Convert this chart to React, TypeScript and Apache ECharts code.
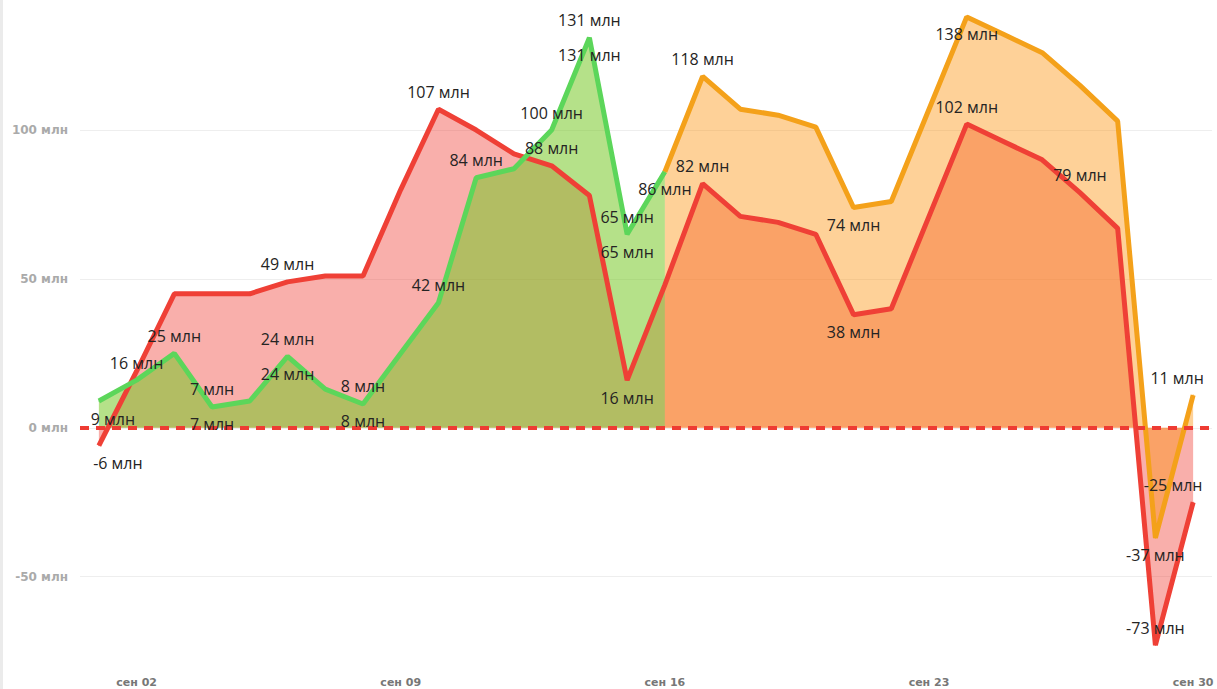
import React, { useEffect, useRef } from "react";
import * as echarts from "echarts";

const categories = [
  "сен 01", "сен 02", "сен 03", "сен 04", "сен 05", "сен 06", "сен 07", "сен 08", "сен 09", "сен 10",
  "сен 11", "сен 12", "сен 13", "сен 14", "сен 15", "сен 16", "сен 17", "сен 18", "сен 19", "сен 20",
  "сен 21", "сен 22", "сен 23", "сен 24", "сен 25", "сен 26", "сен 27", "сен 28", "сен 29", "сен 30",
];

const redValues = [
  -6, 19, 45, 45, 45, 49, 51, 51, 80, 107, 100, 92, 88, 78, 16, 48, 82, 71, 69, 65,
  38, 40, 71, 102, 96, 90, 79, 67, -73, -25,
];

const greenValues: (number | null)[] = [
  9, 16, 25, 7, 9, 24, 13, 8, 25, 42, 84, 87, 100, 131, 65, 86,
  null, null, null, null, null, null, null, null, null, null, null, null, null, null,
];

const orangeValues: (number | null)[] = [
  null, null, null, null, null, null, null, null, null, null, null, null, null, null, null,
  86, 118, 107, 105, 101, 74, 76, 107, 138, 132, 126, 115, 103, -37, 11,
];

const yTicks = [-50, 0, 50, 100];

type Spec = Record<number, { pos: string; off?: [number, number] }>;

const redLabelSpec: Spec = {
  0: { pos: "bottom", off: [19, 0] },
  5: { pos: "top" },
  9: { pos: "top" },
  12: { pos: "top" },
  14: { pos: "bottom" },
  16: { pos: "top" },
  20: { pos: "bottom" },
  23: { pos: "top" },
  26: { pos: "top" },
  28: { pos: "top" },
  29: { pos: "top", off: [-20, 0] },
};
const greenLabelSpec: Spec = {
  0: { pos: "bottom", off: [14, 0] },
  1: { pos: "top" },
  2: { pos: "top" },
  3: { pos: "top" },
  5: { pos: "top" },
  7: { pos: "top" },
  9: { pos: "top" },
  10: { pos: "top" },
  12: { pos: "top" },
  13: { pos: "top" },
  14: { pos: "top" },
  15: { pos: "bottom" },
};
const greenDupSpec: Spec = {
  3: { pos: "bottom" },
  5: { pos: "bottom" },
  7: { pos: "bottom" },
  13: { pos: "bottom" },
  14: { pos: "bottom" },
};
const orangeLabelSpec: Spec = {
  16: { pos: "top" },
  20: { pos: "bottom" },
  23: { pos: "bottom" },
  28: { pos: "bottom" },
  29: { pos: "top", off: [-16, 0] },
};

const RED = "#ef4036";
const GREEN = "#5cd65a";
const ORANGE = "#f4a11a";

const fmt = (v: number) => `${v} млн`;

function withLabels(values: (number | null)[], spec: Spec) {
  return values.map((v, i) => {
    if (v === null) return "-";
    const s = spec[i];
    if (!s) return v;
    return { value: v, label: { show: true, position: s.pos, offset: s.off || [0, 0] } };
  });
}

const baseLabel = {
  show: false,
  color: "#252423",
  fontSize: 16,
  fontFamily: "Open Sans",
  distance: 9,
  formatter: (p: any) => fmt(p.value),
};

export default function App() {
  const ref = useRef<HTMLDivElement>(null);
  useEffect(() => {
    if (!ref.current) return;
    const chart = echarts.init(ref.current, undefined, { renderer: "svg" });
    const areaSeries = (data: any[], color: string, z: number) => ({
      type: "line",
      data,
      symbol: "none",
      lineStyle: { width: 0 },
      areaStyle: { color, opacity: 1 },
      z,
      silent: true,
    });
    const lineSeries = (data: any[], color: string, z: number, extra: any = {}) => ({
      type: "line",
      data,
      symbol: "circle",
      symbolSize: 1,
      showSymbol: true,
      itemStyle: { color },
      lineStyle: { width: 5, color },
      label: baseLabel,
      z,
      ...extra,
    });
    chart.setOption({
      animation: false,
      grid: { left: 80, right: 5, top: 5, bottom: 23, containLabel: false },
      xAxis: {
        type: "category",
        data: categories,
        boundaryGap: true,
        axisLine: { show: false },
        axisTick: { show: false },
        axisLabel: {
          interval: (idx: number) => idx % 7 === 1,
          color: "#777777",
          fontSize: 11,
          fontWeight: "bold",
          fontFamily: "DejaVu Sans",
          margin: 11,
        },
        splitLine: { show: false },
      },
      yAxis: {
        type: "value",
        min: -80,
        max: 142,
        splitNumber: 5,
        axisLine: { show: false },
        axisTick: { show: false },
        axisLabel: {
          showMinLabel: false,
          showMaxLabel: false,
          color: "#aaaaaa",
          fontSize: 12,
          fontWeight: "bold",
          fontFamily: "DejaVu Sans",
          margin: 12,
          formatter: (v: number) => (yTicks.includes(v) ? fmt(v) : ""),
        },
        splitLine: {
          show: true,
          showMinLine: false,
          showMaxLine: false,
          lineStyle: { color: "#eeeeee", width: 1 },
        },
      },
      series: [
        areaSeries(redValues, "rgba(240,55,45,0.4)", 1),
        areaSeries(greenValues.map((v) => (v === null ? "-" : v)), "rgba(120,200,40,0.55)", 2),
        areaSeries(orangeValues.map((v) => (v === null ? "-" : v)), "rgba(252,145,10,0.42)", 2),
        lineSeries(withLabels(redValues, redLabelSpec), RED, 4, {
          markLine: {
            silent: true,
            symbol: ["none", "none"],
            label: { show: false },
            lineStyle: { type: [9, 7], color: "#ee3b33", width: 4 },
            data: [{ yAxis: 0 }],
          },
        }),
        lineSeries(withLabels(greenValues, greenLabelSpec), GREEN, 4),
        lineSeries(withLabels(orangeValues, orangeLabelSpec), ORANGE, 4),
        {
          type: "line",
          data: withLabels(greenValues, greenDupSpec),
          symbol: "circle",
          symbolSize: 1,
          itemStyle: { color: "rgba(0,0,0,0)" },
          lineStyle: { width: 0, color: "rgba(0,0,0,0)" },
          label: baseLabel,
          z: 5,
          silent: true,
        },
      ],
    });
    return () => chart.dispose();
  }, []);
  return (
    <div style={{ position: "absolute", left: 0, top: 0, width: 1217, height: 689, background: "#fff" }}>
      <div style={{ position: "absolute", left: 0, top: 0, width: 3, height: 689, background: "#ebebeb" }} />
      <div ref={ref} style={{ position: "absolute", left: 0, top: 0, width: 1217, height: 689 }} />
    </div>
  );
}
